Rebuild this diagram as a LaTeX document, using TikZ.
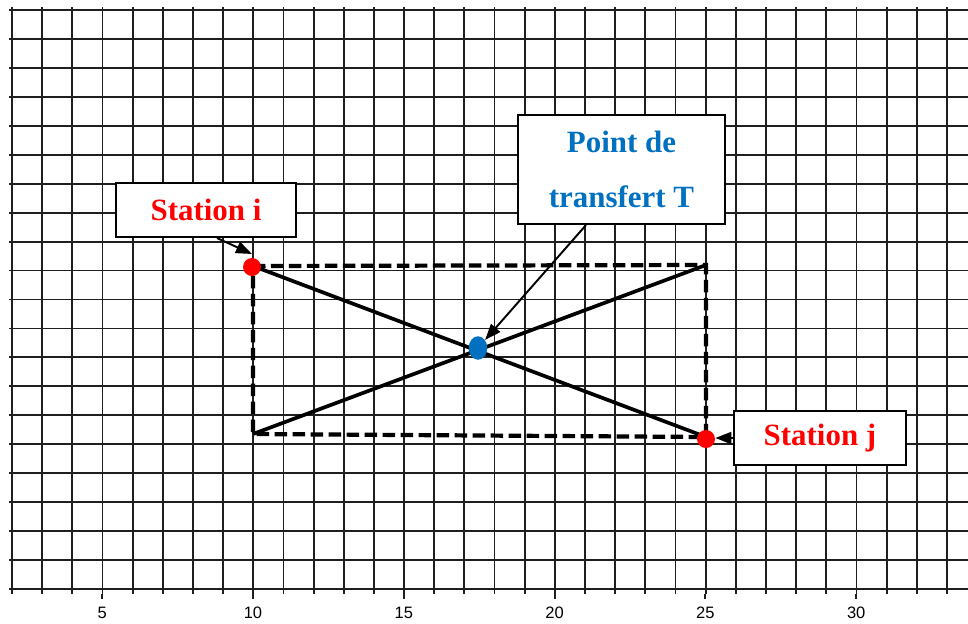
\documentclass[tikz,border=0pt]{standalone}
\usepackage{fontspec}
\setmainfont{Liberation Serif}
\newfontfamily\axfont{Liberation Sans}
\usetikzlibrary{arrows.meta,shapes.geometric}
\definecolor{stred}{RGB}{255,0,0}
\definecolor{ptblue}{RGB}{0,112,192}
\tikzset{
  gridline/.style={line width=1.05pt,draw=black!88},
  axlabel/.style={font=\axfont\fontsize{9.4pt}{11pt}\selectfont,inner sep=0pt},
  dashrect/.style={line width=2.4pt,dash pattern=on 0.25cm off 0.11cm},
  diag/.style={line width=2.1pt},
  labbox/.style={draw,line width=1.2pt,fill=white,inner sep=0pt,align=center,
    font=\bfseries\fontsize{17.6pt}{31pt}\selectfont},
  reddot/.style={circle,fill=stred,inner sep=0pt,minimum size=0.36cm},
  bluedot/.style={ellipse,fill=ptblue,inner sep=0pt,minimum width=0.37cm,minimum height=0.47cm},
  arr/.style={line width=1.1pt,-{Triangle[length=0.32cm,width=0.24cm]}}
}
\begin{document}
\begin{tikzpicture}[x=0.02cm,y=-0.02cm]
\useasboundingbox[fill=white] (0,0) rectangle (968,623);
% grid
\foreach \k in {0,...,31} \draw[gridline] ({12+30.16*\k},7) -- ({12+30.16*\k},594);
\foreach \k in {0,...,20} \draw[gridline] (9,{10+28.95*\k}) -- (968,{10+28.95*\k});
\foreach \v in {5,10,...,30} {
  \draw[gridline] ({253+30.16*(\v-10)},594) -- ++(0,5);
  \node[axlabel] (lab\v) at ({253+30.16*(\v-10)},613) {\v};
}
% rectangle corners
\coordinate (A) at (253,266);
\coordinate (B) at (706,265);
\coordinate (C) at (706,437);
\coordinate (D) at (253,434);
\draw[dashrect] (A) -- (B) -- (C) -- (D) -- cycle;
\draw[diag] (A) -- (C);
\draw[diag] (D) -- (B);
% points
\node[reddot] (di) at (252,267) {};
\node[reddot] (dj) at (706,439) {};
\node[bluedot] (dt) at (478,348) {};
% boxes
\node[labbox,minimum width=3.6cm,minimum height=1.08cm,text=stred] (si) at (206,210) {Station i};
\node[labbox,minimum width=4.14cm,minimum height=2.18cm,text=ptblue] (pt) at (621.5,169.5) {Point de\\transfert T};
\node[labbox,minimum width=3.44cm,minimum height=1.08cm,text=stred] (sj) at (820,438) {Station j};
% arrows
\coordinate (ti) at (252,254);
\draw[arr] ([xshift=0.22cm]si.south) -- (ti);
\draw[arr] ([xshift=-0.71cm]pt.south) -- (dt);
\draw[arr] (sj.west) -- (sj.west -| dj.east);
\end{tikzpicture}
\end{document}
